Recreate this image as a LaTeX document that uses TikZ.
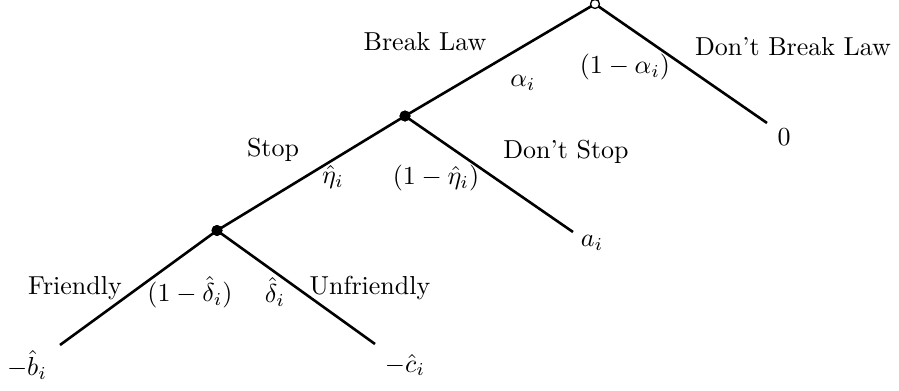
\documentclass[tikz,border=0pt]{standalone}
\begin{document}
\begin{tikzpicture}[x=0.385pt,y=-0.385pt,
  branch/.style={line width=1pt},
  opennode/.style={circle,draw,line width=0.5pt,fill=white,inner sep=0pt,minimum size=9*0.385pt},
  dotnode/.style={circle,fill=black,inner sep=0pt,minimum size=11*0.385pt},
  lbl/.style={inner sep=0pt}]
\useasboundingbox (0,0) rectangle (899,391);
% nodes
\coordinate (Rc) at (595,4);
\node[dotnode] (A) at (405,116) {};
\node[dotnode] (B) at (217,230.5) {};
\coordinate (Z) at (767,123);
\coordinate (Ai) at (573,232);
\coordinate (Bl) at (60,345);
\coordinate (Cr) at (375,344);
% branches
\draw[branch] (Rc) -- (A.center);
\draw[branch] (Rc) -- (Z);
\draw[branch] (A.center) -- (B.center);
\draw[branch] (A.center) -- (Ai);
\draw[branch] (B.center) -- (Bl);
\draw[branch] (B.center) -- (Cr);
\node[dotnode] at (A) {};
\node[dotnode] at (B) {};
\node[opennode] (R) at (Rc) {};
% labels
\node[lbl] (l1) at (425,42) {Break Law};
\node[lbl] (l2) at (523,83) {$\alpha_i$};
\node[lbl] (l3) at (625,67) {$(1-\alpha_i)$};
\node[lbl] (l4) at (793,47) {Don't Break Law};
\node[lbl] (l5) at (784,137) {$0$};
\node[lbl] (l6) at (273,150) {Stop};
\node[lbl] (l7) at (333,177) {$\hat{\eta}_i$};
\node[lbl] (l8) at (436,178) {$(1-\hat{\eta}_i)$};
\node[lbl] (l9) at (566,152) {Don't Stop};
\node[lbl] (l10) at (592,243) {$a_i$};
\node[lbl] (l11) at (75,288) {Friendly};
\node[lbl] (l12) at (190,292) {$(1-\hat{\delta}_i)$};
\node[lbl] (l13) at (275,292) {$\hat{\delta}_i$};
\node[lbl] (l14) at (370,288) {Unfriendly};
\node[lbl] (l15) at (27,365) {$-\hat{b}_i$};
\node[lbl] (l16) at (405,365) {$-\hat{c}_i$};
\end{tikzpicture}
\end{document}
